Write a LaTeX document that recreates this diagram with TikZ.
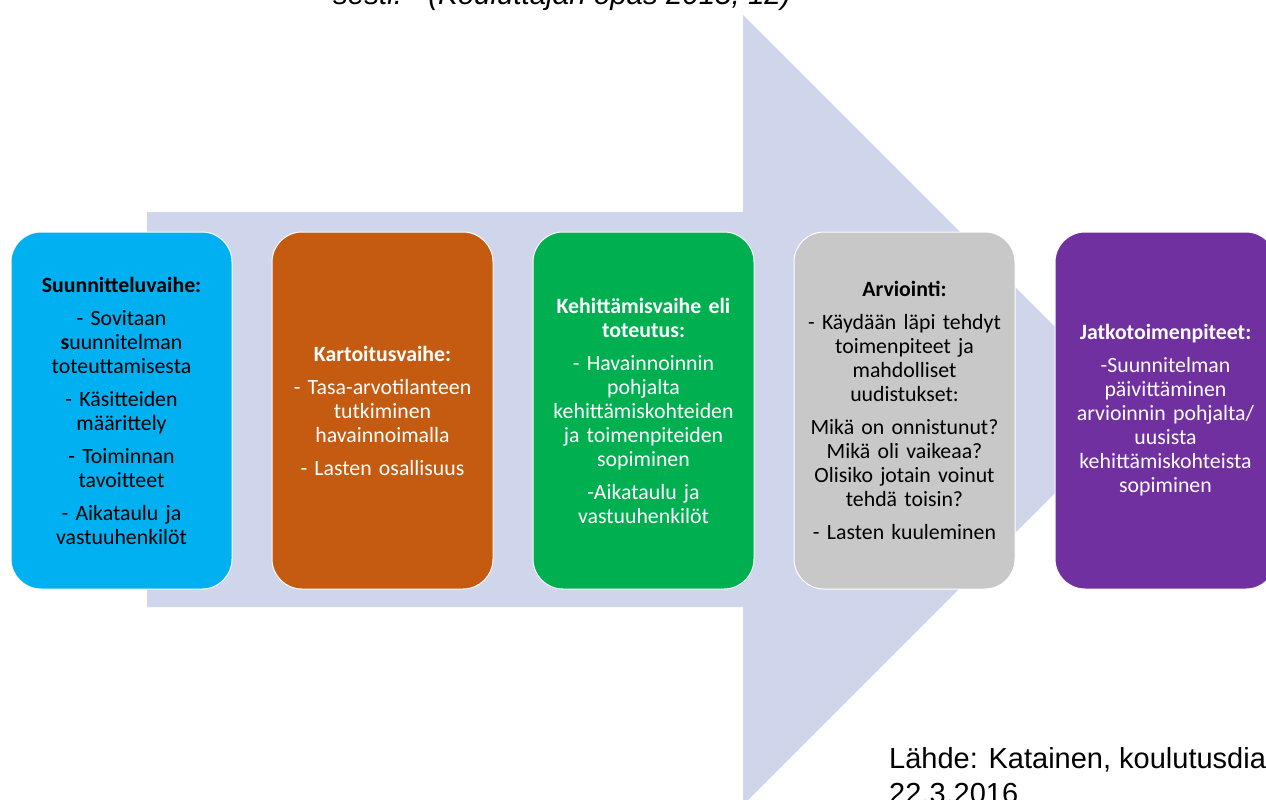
\documentclass[tikz,border=0pt]{standalone}
\usepackage{fontspec}
\setmainfont{Carlito}
\newfontfamily\arialfont{Liberation Sans}
\usepackage{tikz}
\usetikzlibrary{positioning}
\definecolor{nuoli}{HTML}{CFD5EA}
\definecolor{sininen}{HTML}{00B0F0}
\definecolor{oranssi}{HTML}{C55A11}
\definecolor{vihrea}{HTML}{00B050}
\definecolor{harmaa}{HTML}{C8C8C8}
\definecolor{violetti}{HTML}{7030A0}

\begin{document}
\begin{tikzpicture}[x=1pt,y=-1pt,
vaihe/.style={draw=white, line width=1pt, rounded corners=30pt,
  minimum width=221pt, minimum height=357pt, inner sep=0pt,
  align=center, text width=210pt, font=\fontsize{21.8}{24}\selectfont}]
\path[use as bounding box, clip] (0,0) rectangle (1266,800);
% iso nuoli taustalla
\fill[nuoli] (147,212) -- (743,212) -- (743,15) -- (1138,410) -- (743,805)
  -- (743,607) -- (147,607) -- cycle;
% vaiheet
\node[vaihe, fill=sininen, text=black] (suunnittelu) at (121.5,410.5) {
\textbf{Suunnitteluvaihe:}\\[9pt]
- Sovitaan\\ \textbf{s}uunnitelman\\ toteuttamisesta\\[9pt]
- Käsitteiden\\ määrittely\\[9pt]
- Toiminnan\\ tavoitteet\\[9pt]
- Aikataulu ja\\ vastuuhenkilöt};
\node[vaihe, fill=oranssi, text=white] (kartoitus) at (382.5,410.5) {
\textbf{Kartoitusvaihe:}\\[9pt]
- Tasa-arvotilanteen\\ tutkiminen\\ havainnoimalla\\[9pt]
- Lasten osallisuus};
\node[vaihe, fill=vihrea, text=white] (kehittaminen) at (643.5,410.5) {
\textbf{Kehittämisvaihe eli}\\ \textbf{toteutus:}\\[9pt]
- Havainnoinnin\\ pohjalta\\ kehittämiskohteiden\\ ja toimenpiteiden\\ sopiminen\\[9pt]
-Aikataulu ja\\ vastuuhenkilöt};
\node[vaihe, fill=harmaa, text=black] (arviointi) at (904.5,410.5) {
\textbf{Arviointi:}\\[9pt]
- Käydään läpi tehdyt\\ toimenpiteet ja\\ mahdolliset\\ uudistukset:\\[9pt]
Mikä on onnistunut?\\ Mikä oli vaikeaa?\\ Olisiko jotain voinut\\ tehdä toisin?\\[9pt]
- Lasten kuuleminen};
\node[vaihe, fill=violetti, text=white] (jatko) at (1165.5,410.5) {
\textbf{Jatkotoimenpiteet:}\\[9pt]
-Suunnitelman\\ päivittäminen\\ arvioinnin pohjalta/\\ uusista\\ kehittämiskohteista\\ sopiminen};
% tekstit
\node[anchor=base west, inner sep=0pt, font=\arialfont\itshape\fontsize{29.5}{35}\selectfont]
  (lainaus) at (333,5) {sesti.”\ \ (Kouluttajan opas 2015, 12)};
\node[anchor=north west, inner sep=0pt, align=left, font=\arialfont\fontsize{29}{35}\selectfont]
  (lahde) at (889,747) {Lähde: Katainen, koulutusdia\\22.3.2016};
\end{tikzpicture}
\end{document}
